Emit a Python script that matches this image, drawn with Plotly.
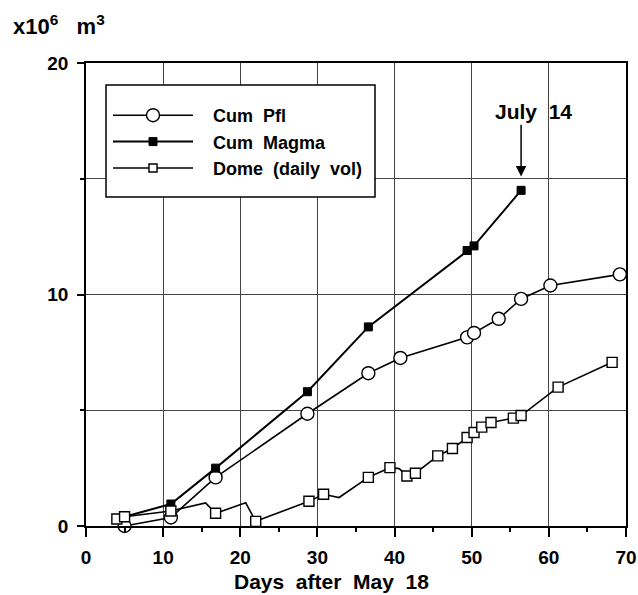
import plotly.graph_objects as go

# ---- data ----
pfl_x = [5.0, 11.0, 16.8, 28.7, 36.6, 40.75, 49.4, 50.3, 53.5, 56.4, 60.2, 69.2]
pfl_y = [0.0, 0.37, 2.1, 4.85, 6.6, 7.26, 8.15, 8.34, 8.95, 9.81, 10.39, 10.87]

magma_x = [5.0, 11.0, 16.8, 28.7, 36.6, 49.4, 50.3, 56.4]
magma_y = [0.4, 0.95, 2.5, 5.8, 8.6, 11.9, 12.1, 14.5]

dome_x = [4.0, 5.0, 11.0, 16.8, 22.0, 28.9, 30.8, 36.6, 39.4, 41.6, 42.7, 45.6, 47.5,
          49.4, 50.3, 51.3, 52.5, 55.4, 56.4, 61.2, 68.2]
dome_y = [0.3, 0.4, 0.65, 0.55, 0.2, 1.07, 1.37, 2.1, 2.52, 2.16, 2.28, 3.03, 3.35,
          3.82, 4.04, 4.27, 4.47, 4.66, 4.77, 6.0, 7.07]
# unmarked vertices of the dome line
dome_kink_x = [15.5, 20.7, 32.8, 40.6]
dome_kink_y = [1.0, 1.0, 1.23, 2.48]

x_ticks = [0, 10, 20, 30, 40, 50, 60, 70]
y_ticks = [0, 10, 20]

FONT = "Liberation Sans, Arial, Helvetica, sans-serif"
NB = "\u00a0"

# plot-area geometry in px (figure 638 x 595)
L, R, T, B = 86, 626, 63, 526
W, H = R - L, B - T


def px_x(p):
    return (p - L) / W


def px_y(p):
    return (B - p) / H


dome_line = sorted(zip(dome_x + dome_kink_x, dome_y + dome_kink_y))
dl_x = [p[0] for p in dome_line]
dl_y = [p[1] for p in dome_line]

fig = go.Figure()

# Dome line (all vertices)
fig.add_trace(go.Scatter(x=dl_x, y=dl_y, mode="lines", showlegend=False,
                         line=dict(color="black", width=1.6), hoverinfo="skip",
                         cliponaxis=False))
# Cum Pfl
fig.add_trace(go.Scatter(x=pfl_x, y=pfl_y, mode="lines+markers",
                         name=NB * 3 + "Cum" + NB * 2 + "Pfl",
                         line=dict(color="black", width=1.6),
                         marker=dict(symbol="circle", size=13, color="white",
                                     line=dict(color="black", width=1.4)),
                         cliponaxis=False))
# Cum Magma
fig.add_trace(go.Scatter(x=magma_x, y=magma_y, mode="lines+markers",
                         name=NB * 3 + "Cum" + NB * 2 + "Magma",
                         line=dict(color="black", width=2),
                         marker=dict(symbol="square", size=8, color="black",
                                     line=dict(color="black", width=1)),
                         cliponaxis=False))
# Dome markers
fig.add_trace(go.Scatter(x=dome_x, y=dome_y, mode="markers", showlegend=False,
                         marker=dict(symbol="square", size=10, color="white",
                                     line=dict(color="black", width=1.4)),
                         cliponaxis=False))
# Dome legend entry
fig.add_trace(go.Scatter(x=[None], y=[None], mode="lines+markers",
                         name=NB * 3 + "Dome" + NB * 2 + "(daily" + NB * 2 + "vol)",
                         line=dict(color="black", width=1.4),
                         marker=dict(symbol="square", size=8, color="white",
                                     line=dict(color="black", width=1.4))))

axis_common = dict(showline=True, linecolor="black", linewidth=1.8, mirror=True,
                   ticks="outside", tickcolor="black", tickwidth=1.5,
                   showgrid=True, gridcolor="#444", gridwidth=1, zeroline=False,
                   automargin=False,
                   tickfont=dict(family=FONT, size=19, color="black", weight="bold"))

fig.update_xaxes(range=[0, 70], tickvals=x_ticks, ticklen=9,
                 minor=dict(dtick=5, ticklen=4, tickcolor="black", showgrid=False),
                 ticklabelstandoff=4,
                 **axis_common)
fig.update_yaxes(range=[0, 20], tickvals=y_ticks, ticklen=7,
                 minor=dict(dtick=5, ticklen=4, tickcolor="black", showgrid=True,
                            gridcolor="#444", gridwidth=1),
                 ticklabelstandoff=5,
                 **axis_common)

# axis title (x)
fig.add_annotation(xref="paper", yref="paper", x=px_x(331), y=px_y(581),
                   xanchor="center", yanchor="middle", showarrow=False,
                   text="Days" + NB * 2 + "after" + NB * 2 + "May" + NB * 2 + "18",
                   font=dict(family=FONT, size=21, color="black", weight="bold"))

# unit label (y)
fig.add_annotation(xref="paper", yref="paper", x=px_x(11), y=px_y(25),
                   xanchor="left", yanchor="middle", showarrow=False,
                   text="x10<sup>6</sup>" + NB * 3 + "m<sup>3</sup>",
                   font=dict(family=FONT, size=22, color="black", weight="bold"))

# July 14 marker
fig.add_annotation(x=58.0, y=17.9, xref="x", yref="y", showarrow=False,
                   text="July" + NB * 2 + "14",
                   font=dict(family=FONT, size=21, color="black", weight="bold"))
fig.add_annotation(x=56.4, y=15.1, ax=56.4, ay=17.4, xref="x", yref="y",
                   axref="x", ayref="y", text="", showarrow=True,
                   arrowhead=2, arrowsize=1.4, arrowwidth=1.5, arrowcolor="black")

# legend frame
fig.add_shape(type="rect", xref="paper", yref="paper",
              x0=px_x(106), x1=px_x(375), y0=px_y(197), y1=px_y(85),
              fillcolor="white", line=dict(color="black", width=1.5), layer="above")

fig.update_layout(
    width=638, height=595,
    margin=dict(l=L, r=638 - R, t=T, b=595 - B, autoexpand=False),
    paper_bgcolor="white", plot_bgcolor="white",
    font=dict(family=FONT, color="black"),
    legend=dict(x=px_x(108), y=px_y(97), xanchor="left", yanchor="top",
                bgcolor="rgba(0,0,0,0)", borderwidth=0,
                itemwidth=80, traceorder="normal",
                font=dict(family=FONT, size=18, color="black", weight="bold")),
)

fig.write_html("out.html")
